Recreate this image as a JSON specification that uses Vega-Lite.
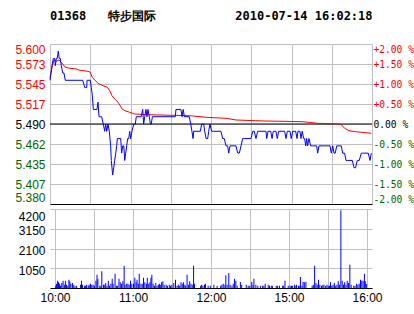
{
  "$schema": "https://vega.github.io/schema/vega-lite/v6.json",
  "background": "white",
  "padding": {"left": 14, "top": 10, "right": 0, "bottom": 5},
  "title": {"text": "01368\u00a0\u00a0\u00a0特步国际\u00a0\u00a0\u00a0\u00a0\u00a0\u00a0\u00a0\u00a0\u00a0\u00a0\u00a02010-07-14\u00a016:02:18", "anchor": "start", "frame": "group", "font": "DejaVu Sans Mono", "fontSize": 12, "fontWeight": "bold", "color": "black", "offset": 20},
  "spacing": 5,
  "bounds": "flush",
  "config": {
    "view": {"stroke": null},
    "axis": {"gridColor": "#c0c0c0", "gridOpacity": 1, "gridWidth": 1, "ticks": false, "domain": false, "labelFont": "Liberation Sans", "labelFontSize": 12, "labelColor": "black", "title": null},
    "concat": {"spacing": 5}
  },
  "datasets": {
    "price": [
      {"m":0,"p":5.55},{"m":1.5,"p":5.57},{"m":2.5,"p":5.58},{"m":3.5,"p":5.58},{"m":4,"p":5.57},{"m":4.7,"p":5.58},{"m":5.4,"p":5.58},{"m":6.2,"p":5.59},{"m":6.9,"p":5.58},{"m":7.7,"p":5.58},{"m":8.4,"p":5.57},{"m":9.5,"p":5.56},{"m":10.4,"p":5.56},{"m":11.4,"p":5.55},{"m":24.4,"p":5.55},{"m":25.9,"p":5.54},{"m":26.6,"p":5.54},{"m":27.4,"p":5.54},{"m":27.6,"p":5.55},{"m":30,"p":5.55},{"m":30.8,"p":5.54},{"m":31.5,"p":5.53},{"m":32.3,"p":5.51},{"m":35,"p":5.51},{"m":35.8,"p":5.52},{"m":36.5,"p":5.5},{"m":37.5,"p":5.5},{"m":38.5,"p":5.5},{"m":39.7,"p":5.49},{"m":40.8,"p":5.48},{"m":41.5,"p":5.49},{"m":42.3,"p":5.48},{"m":43.2,"p":5.49},{"m":44.2,"p":5.48},{"m":45.2,"p":5.46},{"m":45.7,"p":5.44},{"m":46.7,"p":5.42},{"m":47.5,"p":5.43},{"m":48.2,"p":5.44},{"m":49,"p":5.45},{"m":49.7,"p":5.46},{"m":50.2,"p":5.47},{"m":52.7,"p":5.47},{"m":53.4,"p":5.45},{"m":54.2,"p":5.46},{"m":55,"p":5.46},{"m":55.7,"p":5.44},{"m":56.4,"p":5.45},{"m":57.2,"p":5.46},{"m":57.9,"p":5.47},{"m":58.7,"p":5.47},{"m":59.4,"p":5.48},{"m":60.1,"p":5.47},{"m":61.1,"p":5.48},{"m":62.4,"p":5.49},{"m":63.6,"p":5.49},{"m":64.3,"p":5.5},{"m":65.6,"p":5.5},{"m":68,"p":5.5},{"m":69.1,"p":5.51},{"m":69.8,"p":5.49},{"m":70.6,"p":5.5},{"m":71.5,"p":5.51},{"m":72.3,"p":5.5},{"m":73,"p":5.51},{"m":74,"p":5.5},{"m":74.8,"p":5.49},{"m":75.5,"p":5.49},{"m":76.3,"p":5.5},{"m":93.4,"p":5.5},{"m":93.9,"p":5.51},{"m":97.6,"p":5.51},{"m":98.4,"p":5.5},{"m":99.3,"p":5.51},{"m":100.1,"p":5.5},{"m":103.8,"p":5.5},{"m":104.9,"p":5.49},{"m":105.8,"p":5.48},{"m":106.6,"p":5.47},{"m":107.1,"p":5.48},{"m":112,"p":5.48},{"m":113.1,"p":5.49},{"m":114.6,"p":5.49},{"m":115.3,"p":5.48},{"m":116.3,"p":5.47},{"m":117.5,"p":5.47},{"m":118.3,"p":5.48},{"m":119.2,"p":5.49},{"m":120.5,"p":5.48},{"m":121.7,"p":5.48},{"m":127.4,"p":5.48},{"m":128.7,"p":5.47},{"m":129.9,"p":5.47},{"m":131.2,"p":5.46},{"m":132.4,"p":5.46},{"m":133.2,"p":5.45},{"m":134.2,"p":5.46},{"m":138.6,"p":5.46},{"m":139.9,"p":5.45},{"m":141.1,"p":5.45},{"m":142.4,"p":5.46},{"m":143.6,"p":5.47},{"m":144.4,"p":5.47},{"m":149.8,"p":5.47},{"m":151.1,"p":5.48},{"m":152.3,"p":5.48},{"m":153.5,"p":5.47},{"m":154.8,"p":5.48},{"m":161,"p":5.48},{"m":161.5,"p":5.47},{"m":162.5,"p":5.48},{"m":164.5,"p":5.48},{"m":165.5,"p":5.47},{"m":166.4,"p":5.48},{"m":168.4,"p":5.48},{"m":169.4,"p":5.47},{"m":170.4,"p":5.48},{"m":174.9,"p":5.48},{"m":175.9,"p":5.47},{"m":176.9,"p":5.48},{"m":178.9,"p":5.48},{"m":179.8,"p":5.47},{"m":180.9,"p":5.48},{"m":183.1,"p":5.48},{"m":184.1,"p":5.47},{"m":184.8,"p":5.48},{"m":186.3,"p":5.48},{"m":187.1,"p":5.47},{"m":188,"p":5.48},{"m":189.1,"p":5.47},{"m":189.8,"p":5.47},{"m":190.6,"p":5.46},{"m":191.3,"p":5.47},{"m":192,"p":5.46},{"m":193,"p":5.47},{"m":194.3,"p":5.46},{"m":195.5,"p":5.46},{"m":198.8,"p":5.46},{"m":199.5,"p":5.45},{"m":200.5,"p":5.46},{"m":201.2,"p":5.46},{"m":208.7,"p":5.46},{"m":209.7,"p":5.45},{"m":210.7,"p":5.46},{"m":211.7,"p":5.45},{"m":212.6,"p":5.45},{"m":213.7,"p":5.46},{"m":214.6,"p":5.46},{"m":217.1,"p":5.46},{"m":218.1,"p":5.45},{"m":219.6,"p":5.45},{"m":220.6,"p":5.44},{"m":221.6,"p":5.44},{"m":225.3,"p":5.44},{"m":226.6,"p":5.43},{"m":227.8,"p":5.43},{"m":229,"p":5.44},{"m":230.5,"p":5.44},{"m":232,"p":5.45},{"m":232.8,"p":5.45},{"m":234,"p":5.45},{"m":235.3,"p":5.45},{"m":237.2,"p":5.45},{"m":238.5,"p":5.44},{"m":239.5,"p":5.45}
    ],
    "avg": [
      {"m":0,"a":5.5531},{"m":1.5,"a":5.5678},{"m":3,"a":5.5778},{"m":4.7,"a":5.5761},{"m":6.7,"a":5.5778},{"m":8.4,"a":5.5747},{"m":11,"a":5.5686},{"m":13.4,"a":5.5669},{"m":19.6,"a":5.5655},{"m":21.4,"a":5.5641},{"m":24.6,"a":5.5632},{"m":28.3,"a":5.5623},{"m":30,"a":5.561},{"m":31.5,"a":5.5541},{"m":33.3,"a":5.5504},{"m":35.8,"a":5.5459},{"m":39.5,"a":5.5426},{"m":42.7,"a":5.5404},{"m":44.5,"a":5.5357},{"m":46.2,"a":5.5288},{"m":48.2,"a":5.5243},{"m":50.7,"a":5.5198},{"m":52.4,"a":5.5151},{"m":53.7,"a":5.5106},{"m":55.7,"a":5.5083},{"m":59.4,"a":5.5061},{"m":63.1,"a":5.5037},{"m":73,"a":5.5028},{"m":80.5,"a":5.5024},{"m":103.8,"a":5.5014},{"m":106.3,"a":5.501},{"m":116.3,"a":5.4992},{"m":131.2,"a":5.4978},{"m":138.6,"a":5.4955},{"m":153.5,"a":5.4945},{"m":161,"a":5.4941},{"m":188,"a":5.4932},{"m":199.2,"a":5.491},{"m":216.7,"a":5.49},{"m":219.6,"a":5.4841},{"m":222.8,"a":5.4808},{"m":227.8,"a":5.4794},{"m":235.3,"a":5.4781},{"m":239.5,"a":5.4772}
    ],
    "vol": [
      {"m":0.5,"v":124},{"m":1.2,"v":230},{"m":2.0,"v":390},{"m":2.7,"v":301},{"m":3.5,"v":230},{"m":4.2,"v":124},{"m":5.2,"v":266},{"m":6.2,"v":390},{"m":7.2,"v":177},{"m":8.0,"v":390},{"m":8.9,"v":177},{"m":9.9,"v":124},{"m":10.7,"v":443},{"m":11.4,"v":355},{"m":12.2,"v":230},{"m":13.4,"v":266},{"m":14.4,"v":177},{"m":15.4,"v":89},{"m":16.6,"v":124},{"m":19.6,"v":177},{"m":20.4,"v":390},{"m":21.1,"v":177},{"m":22.6,"v":124},{"m":23.4,"v":124},{"m":24.3,"v":177},{"m":25.6,"v":124},{"m":26.3,"v":177},{"m":27.3,"v":230},{"m":28.3,"v":177},{"m":29.3,"v":177},{"m":30.3,"v":124},{"m":31.5,"v":390},{"m":32.3,"v":709},{"m":33.0,"v":497},{"m":34.5,"v":124},{"m":35.3,"v":124},{"m":36.0,"v":887},{"m":37.3,"v":177},{"m":38.3,"v":177},{"m":39.0,"v":266},{"m":40.0,"v":124},{"m":41.0,"v":390},{"m":42.0,"v":124},{"m":43.0,"v":230},{"m":44.0,"v":497},{"m":44.7,"v":230},{"m":46.2,"v":762},{"m":47.2,"v":124},{"m":48.0,"v":124},{"m":49.2,"v":497},{"m":50.2,"v":301},{"m":51.2,"v":230},{"m":52.2,"v":355},{"m":53.2,"v":1188},{"m":53.9,"v":177},{"m":55.2,"v":230},{"m":56.1,"v":230},{"m":57.1,"v":177},{"m":58.1,"v":390},{"m":59.1,"v":230},{"m":60.4,"v":230},{"m":61.4,"v":550},{"m":62.4,"v":301},{"m":63.1,"v":443},{"m":64.1,"v":230},{"m":64.8,"v":762},{"m":66.1,"v":230},{"m":67.1,"v":230},{"m":68.1,"v":550},{"m":69.1,"v":301},{"m":70.3,"v":230},{"m":71.0,"v":550},{"m":72.1,"v":230},{"m":73.0,"v":301},{"m":73.8,"v":550},{"m":74.5,"v":709},{"m":75.5,"v":230},{"m":76.5,"v":124},{"m":77.5,"v":266},{"m":78.5,"v":124},{"m":79.5,"v":177},{"m":80.3,"v":230},{"m":81.0,"v":177},{"m":82.0,"v":301},{"m":83.0,"v":355},{"m":84.0,"v":177},{"m":85.5,"v":177},{"m":86.5,"v":124},{"m":87.9,"v":177},{"m":88.9,"v":124},{"m":89.9,"v":177},{"m":91.4,"v":266},{"m":92.7,"v":443},{"m":93.9,"v":124},{"m":94.9,"v":177},{"m":95.9,"v":124},{"m":96.9,"v":301},{"m":97.9,"v":230},{"m":98.9,"v":301},{"m":99.9,"v":177},{"m":100.6,"v":124},{"m":101.6,"v":709},{"m":102.6,"v":177},{"m":103.6,"v":355},{"m":104.6,"v":230},{"m":105.6,"v":177},{"m":106.6,"v":1188},{"m":107.3,"v":230},{"m":112.0,"v":124},{"m":112.8,"v":177},{"m":113.8,"v":124},{"m":115.0,"v":177},{"m":115.8,"v":230},{"m":117.8,"v":124},{"m":119.5,"v":124},{"m":122.2,"v":177},{"m":124.7,"v":124},{"m":127.4,"v":124},{"m":128.4,"v":177},{"m":129.4,"v":230},{"m":130.7,"v":177},{"m":131.4,"v":674},{"m":132.4,"v":177},{"m":133.7,"v":798},{"m":134.7,"v":177},{"m":136.1,"v":124},{"m":137.1,"v":230},{"m":138.1,"v":497},{"m":139.1,"v":390},{"m":140.1,"v":124},{"m":142.6,"v":319},{"m":143.6,"v":177},{"m":147.1,"v":177},{"m":148.6,"v":124},{"m":149.8,"v":124},{"m":151.3,"v":319},{"m":152.3,"v":177},{"m":153.0,"v":497},{"m":154.5,"v":177},{"m":156.0,"v":124},{"m":158.0,"v":124},{"m":159.7,"v":124},{"m":160.7,"v":124},{"m":161.7,"v":230},{"m":164.0,"v":177},{"m":165.0,"v":124},{"m":166.4,"v":124},{"m":167.2,"v":124},{"m":170.2,"v":124},{"m":171.2,"v":124},{"m":172.7,"v":124},{"m":175.1,"v":124},{"m":175.9,"v":124},{"m":176.9,"v":390},{"m":179.4,"v":124},{"m":180.9,"v":124},{"m":181.9,"v":124},{"m":182.8,"v":124},{"m":184.3,"v":177},{"m":185.3,"v":124},{"m":185.8,"v":177},{"m":187.3,"v":124},{"m":188.3,"v":124},{"m":188.8,"v":585},{"m":190.0,"v":124},{"m":190.8,"v":319},{"m":191.8,"v":301},{"m":193.0,"v":337},{"m":197.8,"v":124},{"m":198.7,"v":177},{"m":199.7,"v":1188},{"m":200.7,"v":266},{"m":201.7,"v":177},{"m":202.7,"v":443},{"m":203.7,"v":177},{"m":205.0,"v":124},{"m":206.0,"v":177},{"m":206.9,"v":177},{"m":208.2,"v":124},{"m":209.2,"v":177},{"m":210.2,"v":124},{"m":211.2,"v":124},{"m":211.9,"v":301},{"m":212.9,"v":124},{"m":213.9,"v":177},{"m":214.9,"v":266},{"m":215.9,"v":124},{"m":216.9,"v":177},{"m":217.9,"v":355},{"m":218.9,"v":177},{"m":219.9,"v":4130},{"m":220.9,"v":390},{"m":221.9,"v":177},{"m":222.8,"v":301},{"m":223.8,"v":177},{"m":224.8,"v":390},{"m":225.8,"v":266},{"m":226.8,"v":1241},{"m":227.8,"v":177},{"m":229.8,"v":124},{"m":230.8,"v":124},{"m":232.0,"v":230},{"m":233.0,"v":177},{"m":234.0,"v":230},{"m":235.0,"v":443},{"m":236.0,"v":390},{"m":237.0,"v":390},{"m":238.0,"v":762},{"m":238.7,"v":355},{"m":239.5,"v":213}
    ]
  },
  "vconcat": [
    {
      "width": 322,
      "height": 160,
      "resolve": {"scale": {"y": "independent"}},
      "layer": [
        {
          "data": {"values": [{"r": 5.49}]},
          "mark": {"type": "rule", "color": "black", "strokeWidth": 1},
          "encoding": {
            "y": {"field": "r", "type": "quantitative",
              "scale": {"domain": [5.3802, 5.5998], "nice": false, "zero": false},
              "axis": {"orient": "right", "grid": false, "values": [5.3802, 5.40765, 5.4351, 5.46255, 5.49, 5.51745, 5.5449, 5.57235, 5.5998],
                "labelFont": "DejaVu Sans Mono", "labelFontSize": 9.6, "labelPadding": 1, "labelFlush": true, "labelOverlap": false,
                "labelExpr": "(datum.value > 5.491 ? '+' : datum.value < 5.489 ? '-' : '\u00a0') + format(abs(round((datum.value / 5.49 - 1) * 200)) / 2, '.2f') + '\u00a0%'",
                "labelColor": {"condition": [{"test": "datum.value > 5.491", "value": "#ff0000"}, {"test": "datum.value < 5.489", "value": "#006400"}], "value": "black"}}}
          }
        },
        {
          "data": {"name": "avg"},
          "mark": {"type": "line", "color": "#ff0000", "strokeWidth": 1},
          "encoding": {
            "x": {"field": "m", "type": "quantitative",
              "scale": {"domain": [0, 240], "nice": false, "zero": false},
              "axis": {"values": [0, 30, 60, 90, 120, 150, 180, 210, 240], "labels": false, "domain": true, "domainColor": "black", "grid": true, "labelPadding": 0, "minExtent": 0, "maxExtent": 0}},
            "y": {"field": "a", "type": "quantitative",
              "scale": {"domain": [5.3802, 5.5998], "nice": false, "zero": false},
              "axis": {"orient": "left", "grid": true, "values": [5.3802, 5.40765, 5.4351, 5.46255, 5.49, 5.51745, 5.5449, 5.57235, 5.5998],
                "labelPadding": 5, "minExtent": 35, "maxExtent": 35, "labelFlush": true, "labelOverlap": false,
                "labelExpr": "['5.380','5.407','5.435','5.462','5.490','5.517','5.545','5.573','5.600'][round((datum.value / 5.49 - 1) * 200) + 4]",
                "labelColor": {"condition": [{"test": "datum.value > 5.491", "value": "#ff0000"}, {"test": "datum.value < 5.489", "value": "#006400"}], "value": "black"}}}
          }
        },
        {
          "data": {"name": "price"},
          "mark": {"type": "line", "color": "#0000ff", "strokeWidth": 1},
          "encoding": {
            "x": {"field": "m", "type": "quantitative"},
            "y": {"field": "p", "type": "quantitative",
              "scale": {"domain": [5.3802, 5.5998], "nice": false, "zero": false},
              "axis": null}
          }
        }
      ]
    },
    {
      "width": 322,
      "height": 79,
      "data": {"name": "vol"},
      "mark": {"type": "bar", "color": "#0000ff", "size": 1},
      "encoding": {
        "x": {"field": "m", "type": "quantitative",
          "scale": {"domain": [0, 240], "nice": false, "zero": false},
          "axis": {"values": [0, 30, 60, 90, 120, 150, 180, 210, 240], "grid": true, "domain": true, "domainColor": "black",
            "labelFlush": false, "labelOverlap": false, "labelPadding": 4, "labelFontSize": 12,
            "labelExpr": "datum.value == 0 ? '10:00' : datum.value == 60 ? '11:00' : datum.value == 120 ? '12:00' : datum.value == 180 ? '15:00' : datum.value == 240 ? '16:00' : ''"}},
        "y": {"field": "v", "type": "quantitative",
          "scale": {"domain": [0, 4200], "nice": false},
          "axis": {"values": [0, 1050, 2100, 3150, 4200], "grid": true, "format": "d", "labelPadding": 5, "minExtent": 35, "maxExtent": 35, "labelFlush": true, "labelOffset": 2, "labelOverlap": false,
            "labelExpr": "datum.value == 0 ? '' : datum.label"}}
      }
    }
  ]
}
